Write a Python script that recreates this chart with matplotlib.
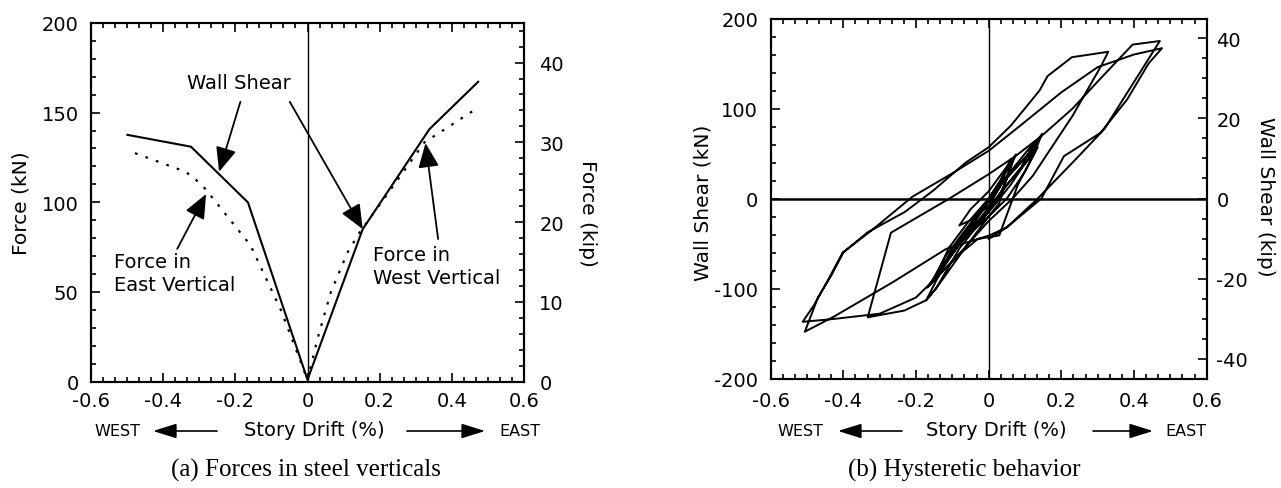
import matplotlib
matplotlib.use("Agg")
import matplotlib.pyplot as plt
from matplotlib.ticker import MultipleLocator, AutoMinorLocator

plt.rcParams["font.family"] = "DejaVu Sans"
plt.rcParams["axes.unicode_minus"] = False

KN_PER_KIP = 4.448

# (a) forces in steel verticals
drift_ws = [-0.499, -0.323, -0.165, 0.0, 0.153, 0.338, 0.473]
shear_ws = [137.6, 131.0, 99.9, 1.0, 85.0, 140.8, 167.2]

drift_ev = [-0.478, -0.338, -0.311, -0.283, -0.158, -0.074, 0.0]
force_ev = [127.4, 117.0, 112.9, 107.4, 76.0, 40.0, 1.0]

drift_wv = [0.0, 0.028, 0.065, 0.111, 0.144, 0.255, 0.324, 0.459]
force_wv = [1.0, 24.0, 50.0, 72.0, 83.0, 114.0, 133.4, 151.0]

# (b) hysteretic behaviour, traced vertex by vertex
hyst_drift = [
    0.000, 0.030, 0.061, 0.030, 0.000, -0.044, -0.081, -0.050, 0.000,
    0.040, 0.075, 0.055, 0.029, 0.000, -0.060, -0.100, -0.140, -0.110, -0.060, 0.000,
    0.040, 0.065, 0.050, 0.020, -0.040, -0.090, -0.120, -0.080, -0.030, 0.020,
    0.060, 0.110, 0.147, 0.125, 0.080, 0.029, -0.030, -0.090, -0.163, -0.120, -0.070,
    -0.020, 0.040, 0.100, 0.135, 0.100, 0.050, 0.000, -0.060, -0.145, -0.172,
    -0.130, -0.080, -0.020, 0.050, 0.110, 0.125, 0.090, 0.030, -0.020, -0.080, -0.169,
    -0.120, -0.050, 0.000, 0.060, 0.120, 0.140, 0.110, 0.060, 0.000, -0.080,
    -0.145, -0.172, -0.232, -0.333,
    -0.269, -0.108, 0.000, 0.075, 0.147, 0.231, 0.300, 0.396, 0.471,
    0.396, 0.318, 0.231, 0.130, 0.050, 0.002, -0.117, -0.264, -0.319, -0.425, -0.506,
    -0.470, -0.434, -0.400, -0.333, -0.231, -0.152, -0.063, 0.000, 0.061, 0.140, 0.162, 0.229, 0.329,
    0.309, 0.231, 0.121, 0.066, 0.000, -0.100, -0.200, -0.300, -0.430, -0.512,
    -0.480, -0.440, -0.402, -0.324, -0.210, -0.100, 0.000, 0.084, 0.200, 0.300, 0.400, 0.477,
    0.440, 0.381, 0.308, 0.207, 0.145, 0.050, 0.000,
]
hyst_shear = [
    0, 18, 44, 12, -8, -23, -30, -12, 8,
    30, 49, 30, -5, -20, -42, -58, -82, -55, -28, 0,
    25, 40, 22, -5, -30, -50, -72, -45, -20, 10,
    28, 50, 72, 50, 15, -41, -45, -65, -97, -65, -38,
    -12, 18, 45, 57, 30, 0, -20, -52, -100, -113,
    -80, -50, -15, 25, 55, 62, 35, 5, -25, -50, -99,
    -72, -35, -10, 20, 48, 68, 45, 15, -15, -55,
    -100, -113, -124.5, -132,
    -38, 0, 27, 47.5, 70, 100, 130, 171, 175,
    127, 77, 40, -2, -32, -41, -56, -93, -106, -131, -148,
    -110, -86, -60, -37.5, -15, 9, 40, 57, 81, 120, 136, 157, 163,
    147, 92, 25, 0, -25, -70, -110, -128, -134, -137,
    -118, -89, -60, -36, 2, 28, 53, 80, 118, 146, 160, 167,
    150, 110, 73, 47, 0, -32, -45,
]

W, H = 1281, 489


def fx(px):
    return px / W


def fy(py):
    return 1 - py / H


fig = plt.figure(figsize=(W / 100, H / 100), dpi=100)

ax1 = fig.add_axes([fx(91), fy(382.5), fx(524) - fx(91), fy(24) - fy(382.5)])
ax2 = fig.add_axes([fx(770.7), fy(379.5), fx(1206.7) - fx(770.7), fy(19.5) - fy(379.5)])


def style_axes(ax, ypad):
    for s in ax.spines.values():
        s.set_linewidth(1.5)
    ax.xaxis.set_major_locator(MultipleLocator(0.2))
    ax.xaxis.set_minor_locator(AutoMinorLocator(6))
    ax.tick_params(which="both", direction="in", top=True, right=False, width=1.2)
    ax.tick_params(which="major", length=6.5, labelsize=14)
    ax.tick_params(which="minor", length=3.5)
    ax.tick_params(axis="x", pad=7)
    ax.tick_params(axis="y", pad=ypad)
    ax.set_xlim(-0.6, 0.6)
    ax.xaxis.set_major_formatter(plt.FuncFormatter(lambda v, p: "0" if abs(v) < 1e-9 else f"{v:.1f}"))


# ---- (a) forces in steel verticals ----
style_axes(ax1, 9)
ax1.set_ylim(0, 200)
ax1.yaxis.set_major_locator(MultipleLocator(50))
ax1.yaxis.set_minor_locator(AutoMinorLocator(5))
ax1.axvline(0, color="black", lw=1.0)
ax1.plot(drift_ws, shear_ws, color="black", lw=1.5)
ax1.plot(drift_ev, force_ev, color="black", lw=1.6, ls=(0, (1.2, 3.8)))
ax1.plot(drift_wv, force_wv, color="black", lw=1.6, ls=(0, (1.2, 3.8)))

k1 = ax1.twinx()
k1.set_ylim(0, 200 / KN_PER_KIP)
k1.yaxis.set_major_locator(MultipleLocator(10))
k1.yaxis.set_minor_locator(AutoMinorLocator(5))
k1.tick_params(which="both", direction="in", width=1.2)
k1.tick_params(which="major", length=6.5, labelsize=14, pad=11)
k1.tick_params(which="minor", length=3.5)
for s in k1.spines.values():
    s.set_linewidth(1.5)

arrow = dict(arrowstyle="-|>,head_length=0.75,head_width=0.32", color="black",
             lw=1.3, mutation_scale=20, shrinkA=0, shrinkB=0)
ax1.text(-0.191, 167, "Wall Shear", fontsize=14, ha="center", va="center")
ax1.annotate("", xy=(-0.245, 117), xytext=(-0.186, 156), arrowprops=arrow)
ax1.annotate("", xy=(0.153, 85), xytext=(-0.049, 156), arrowprops=arrow)
ax1.text(-0.536, 72, "Force in\nEast Vertical", fontsize=14, ha="left", va="top",
         linespacing=1.25)
ax1.annotate("", xy=(-0.281, 104.6), xytext=(-0.361, 74), arrowprops=arrow)
ax1.text(0.181, 76, "Force in\nWest Vertical", fontsize=14, ha="left", va="top",
         linespacing=1.25)
ax1.annotate("", xy=(0.327, 133), xytext=(0.362, 79.5), arrowprops=arrow)

# ---- (b) hysteretic behavior ----
style_axes(ax2, 9)
ax2.set_ylim(-200, 200)
ax2.yaxis.set_major_locator(MultipleLocator(100))
ax2.yaxis.set_minor_locator(AutoMinorLocator(5))
ax2.tick_params(axis="x", pad=9)
ax2.axvline(0, color="black", lw=1.0)
ax2.axhline(0, color="black", lw=1.8)
ax2.plot(hyst_drift, hyst_shear, color="black", lw=1.4)

k2 = ax2.twinx()
k2.set_ylim(-200 / KN_PER_KIP, 200 / KN_PER_KIP)
k2.yaxis.set_major_locator(MultipleLocator(20))
k2.yaxis.set_minor_locator(AutoMinorLocator(4))
k2.tick_params(which="both", direction="in", width=1.2)
k2.tick_params(which="major", length=6.5, labelsize=14, pad=7)
k2.tick_params(which="minor", length=3.5)
for s in k2.spines.values():
    s.set_linewidth(1.5)

# axis labels
fig.text(fx(21), fy(203), "Force (kN)", rotation=90, fontsize=14.5, ha="center", va="center")
fig.text(fx(588), fy(213), "Force (kip)", rotation=270, fontsize=14.5, ha="center", va="center")
fig.text(fx(703), fy(203), "Wall Shear (kN)", rotation=90, fontsize=14.5, ha="center", va="center")
fig.text(fx(1265), fy(197), "Wall Shear (kip)", rotation=270, fontsize=14.5, ha="center", va="center")

small_arrow = dict(arrowstyle="-|>,head_length=0.8,head_width=0.25", color="black",
                   lw=1.2, mutation_scale=18, shrinkA=0, shrinkB=0)
for west_x, a_from, a_to, mid, b_from, b_to, east_x in [
    (117, 217, 153, 314, 407, 485, 520),
    (800, 902, 838, 996, 1093, 1153, 1186),
]:
    fig.text(fx(west_x), fy(432), "WEST", fontsize=11.5, ha="center", va="center")
    fig.text(fx(mid), fy(431), "Story Drift (%)", fontsize=14, ha="center", va="center")
    fig.text(fx(east_x), fy(432), "EAST", fontsize=11.5, ha="center", va="center")
    ax1.annotate("", xy=(fx(a_to), fy(432)), xytext=(fx(a_from), fy(432)),
                 xycoords="figure fraction", textcoords="figure fraction",
                 arrowprops=small_arrow, annotation_clip=False)
    ax1.annotate("", xy=(fx(b_to), fy(432)), xytext=(fx(b_from), fy(432)),
                 xycoords="figure fraction", textcoords="figure fraction",
                 arrowprops=small_arrow, annotation_clip=False)

fig.text(fx(306), fy(470), "(a) Forces in steel verticals", family="Liberation Serif",
         fontsize=18, ha="center", va="center")
fig.text(fx(964), fy(470), "(b) Hysteretic behavior", family="Liberation Serif",
         fontsize=18, ha="center", va="center")

fig.savefig("out.png", dpi=100)
